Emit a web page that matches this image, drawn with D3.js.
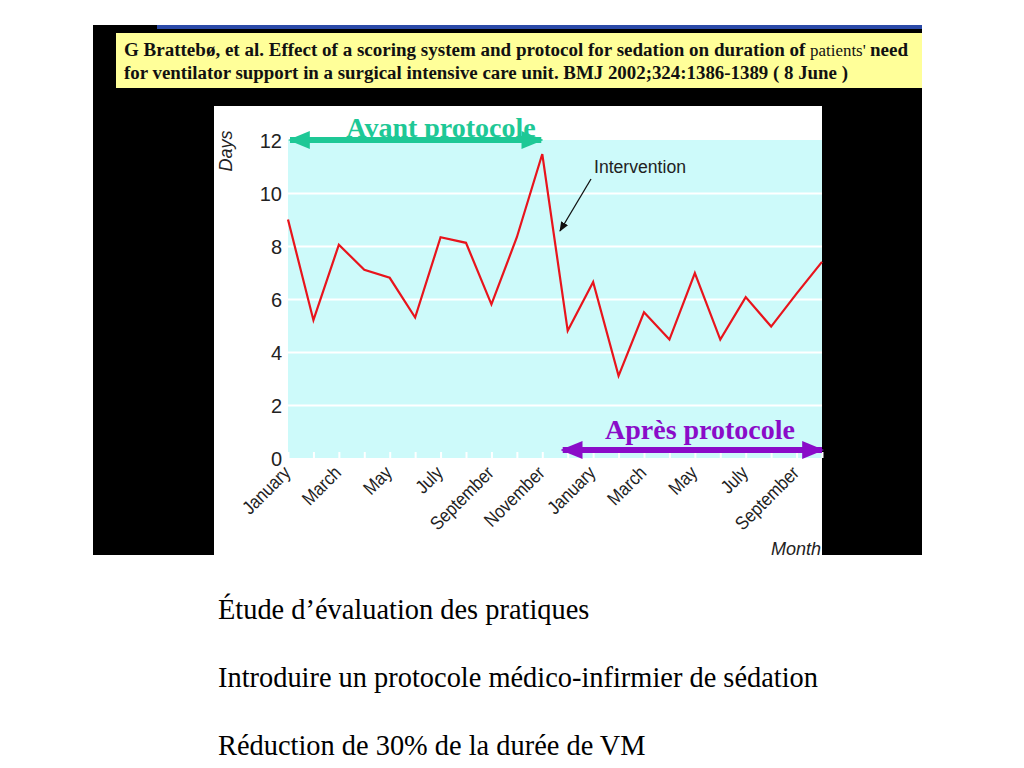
<!DOCTYPE html>
<html>
<head>
<meta charset="utf-8">
<script src="https://cdn.jsdelivr.net/npm/d3@7"></script>
<style>
  body { margin: 0; background: #fff; }
  svg { display: block; }
</style>
</head>
<body>
<div id="chart"></div>
<script>
// data (Jan year 1 .. Oct year 2)
var months = ["January", "February", "March", "April", "May", "June", "July", "August",
    "September", "October", "November", "December",
    "January", "February", "March", "April", "May", "June", "July", "August",
    "September", "October"];
var days = [9.0, 5.2, 8.05, 7.1, 6.8, 5.3, 8.33, 8.12, 5.8, 8.33, 11.47, 4.8,
    6.64, 3.1, 5.5, 4.47, 6.98, 4.47, 6.07, 4.96, 6.2, 7.4];
var yTicks = [0, 2, 4, 6, 8, 10, 12];
var headerLines = [
    "G Brattebø, et al. Effect of a scoring system and protocol for sedation on duration of ",
    "for ventilator support in a surgical intensive care unit. BMJ 2002;324:1386-1389 ( 8 June )"
];
var bullets = [
    "Étude d’évaluation des pratiques",
    "Introduire un protocole médico-infirmier de sédation",
    "Réduction de 30% de la durée de VM"
];

var width = 1024, height = 768;
var svg = d3.select("#chart").append("svg")
    .attr("width", width)
    .attr("height", height);

// black slide block
svg.append("rect").attr("x", 93).attr("y", 25).attr("width", 829).attr("height", 530).attr("fill", "#000");
svg.append("rect").attr("x", 157).attr("y", 25).attr("width", 765).attr("height", 4).attr("fill", "#2b4aa8");
svg.append("rect").attr("x", 116).attr("y", 33).attr("width", 806).attr("height", 55).attr("fill", "#ffff99");

// header
var serif = "'Liberation Serif', 'Times New Roman', serif";
var h1 = svg.append("text")
    .attr("x", 124).attr("y", 56)
    .attr("font-family", serif).attr("font-size", 18).attr("fill", "#111")
    .attr("textLength", 784).attr("lengthAdjust", "spacingAndGlyphs");
h1.append("tspan").attr("font-weight", "bold").text(headerLines[0]);
h1.append("tspan").attr("font-size", 16).text("patients' ");
h1.append("tspan").attr("font-weight", "bold").text("need");
svg.append("text")
    .attr("x", 124).attr("y", 79)
    .attr("font-family", serif).attr("font-size", 18).attr("font-weight", "bold").attr("fill", "#111")
    .attr("textLength", 724).attr("lengthAdjust", "spacingAndGlyphs")
    .text(headerLines[1]);

// white chart panel
svg.append("rect").attr("x", 214).attr("y", 106).attr("width", 608).attr("height", 449).attr("fill", "#fff");

var xScale = d3.scalePoint()
    .domain(d3.range(months.length))
    .range([288, 822]);
var yScale = d3.scaleLinear()
    .domain([0, 12])
    .range([458, 140]);

// cyan plot background
svg.append("rect")
    .attr("x", xScale(0)).attr("y", yScale(12))
    .attr("width", xScale(months.length - 1) - xScale(0))
    .attr("height", yScale(0) - yScale(12))
    .attr("fill", "#cdfafa");

var sans = "'Liberation Sans', Arial, sans-serif";

// gridlines + y labels
var yAxis = d3.axisLeft(yScale)
    .tickValues(yTicks)
    .tickSize(-(xScale(months.length - 1) - xScale(0)))
    .tickPadding(6);
var gy = svg.append("g")
    .attr("transform", "translate(" + xScale(0) + ",0)")
    .call(yAxis);
gy.select(".domain").remove();
gy.selectAll(".tick line")
    .attr("stroke", "#fff")
    .attr("stroke-width", 2)
    .attr("opacity", function(d) { return d === 0 || d === 12 ? 0 : 1; });
gy.selectAll(".tick text")
    .attr("font-family", sans)
    .attr("font-size", 20)
    .attr("fill", "#222")
    .attr("dy", "0.36em");

// x ticks (small white marks) and labels every other month
var xAxis = d3.axisBottom(xScale)
    .tickSize(-6)
    .tickFormat(function(i) { return i % 2 === 0 ? months[i] : ""; });
var gx = svg.append("g")
    .attr("transform", "translate(0," + yScale(0) + ")")
    .call(xAxis);
gx.select(".domain").remove();
gx.selectAll(".tick line").attr("stroke", "#fff").attr("stroke-width", 2);
gx.selectAll(".tick text")
    .attr("font-family", sans)
    .attr("font-size", 18)
    .attr("fill", "#222")
    .attr("text-anchor", "end")
    .attr("y", 0)
    .attr("dy", 0)
    .attr("transform", "translate(3,16) rotate(-45) scale(0.92,1.05)");

// axis titles
svg.append("text")
    .attr("transform", "translate(232,151) rotate(-90)")
    .attr("text-anchor", "middle")
    .attr("font-family", sans).attr("font-style", "italic").attr("font-size", 18)
    .attr("fill", "#222")
    .text("Days");
svg.append("text")
    .attr("x", 821).attr("y", 555)
    .attr("text-anchor", "end")
    .attr("font-family", sans).attr("font-style", "italic").attr("font-size", 18)
    .attr("fill", "#222")
    .text("Month");

// data line
var line = d3.line()
    .x(function(d, i) { return xScale(i); })
    .y(function(d) { return yScale(d); });
svg.append("path")
    .datum(days)
    .attr("d", line)
    .attr("fill", "none")
    .attr("stroke", "#e8141c")
    .attr("stroke-width", 2.2)
    .attr("stroke-linejoin", "miter");

// period arrows
var defs = svg.append("defs");
function marker(id, color, w, h) {
    defs.append("marker")
        .attr("id", id)
        .attr("viewBox", "0 0 10 10")
        .attr("refX", 9).attr("refY", 5)
        .attr("markerUnits", "userSpaceOnUse")
        .attr("markerWidth", w).attr("markerHeight", h)
        .attr("orient", "auto-start-reverse")
        .attr("preserveAspectRatio", "none")
        .append("path")
        .attr("d", "M0,0L10,5L0,10Z")
        .attr("fill", color);
}
marker("mGreen", "#1ec896", 22, 18);
marker("mPurple", "#8a0cc8", 22, 18);
marker("mBlack", "#111", 10, 8);

svg.append("text")
    .attr("x", 441).attr("y", 137)
    .attr("text-anchor", "middle")
    .attr("font-family", serif).attr("font-weight", "bold").attr("font-size", 28)
    .attr("fill", "#1ec896")
    .text("Avant protocole");
svg.append("line")
    .attr("x1", xScale(0) + 2).attr("x2", xScale(10) - 1)
    .attr("y1", 140).attr("y2", 140)
    .attr("stroke", "#1ec896").attr("stroke-width", 6)
    .attr("marker-start", "url(#mGreen)")
    .attr("marker-end", "url(#mGreen)");

svg.append("text")
    .attr("x", 700).attr("y", 439)
    .attr("text-anchor", "middle")
    .attr("font-family", serif).attr("font-weight", "bold").attr("font-size", 28)
    .attr("fill", "#8a0cc8")
    .text("Après protocole");
svg.append("line")
    .attr("x1", xScale(11) - 5).attr("x2", xScale(months.length - 1))
    .attr("y1", 450).attr("y2", 450)
    .attr("stroke", "#8a0cc8").attr("stroke-width", 6)
    .attr("marker-start", "url(#mPurple)")
    .attr("marker-end", "url(#mPurple)");

// intervention annotation
svg.append("text")
    .attr("x", 594).attr("y", 173)
    .attr("font-family", sans).attr("font-size", 18)
    .attr("fill", "#222")
    .attr("textLength", 92).attr("lengthAdjust", "spacingAndGlyphs")
    .text("Intervention");
svg.append("line")
    .attr("x1", 591).attr("y1", 179)
    .attr("x2", 560).attr("y2", 231)
    .attr("stroke", "#111").attr("stroke-width", 1.3)
    .attr("marker-end", "url(#mBlack)");

// text under the slide figure
svg.selectAll(".bullet")
    .data(bullets)
    .enter().append("text")
    .attr("class", "bullet")
    .attr("x", 218)
    .attr("y", function(d, i) { return 619 + i * 68; })
    .attr("font-family", serif)
    .attr("font-size", 28.4)
    .attr("fill", "#000")
    .text(function(d) { return d; });
</script>
</body>
</html>
